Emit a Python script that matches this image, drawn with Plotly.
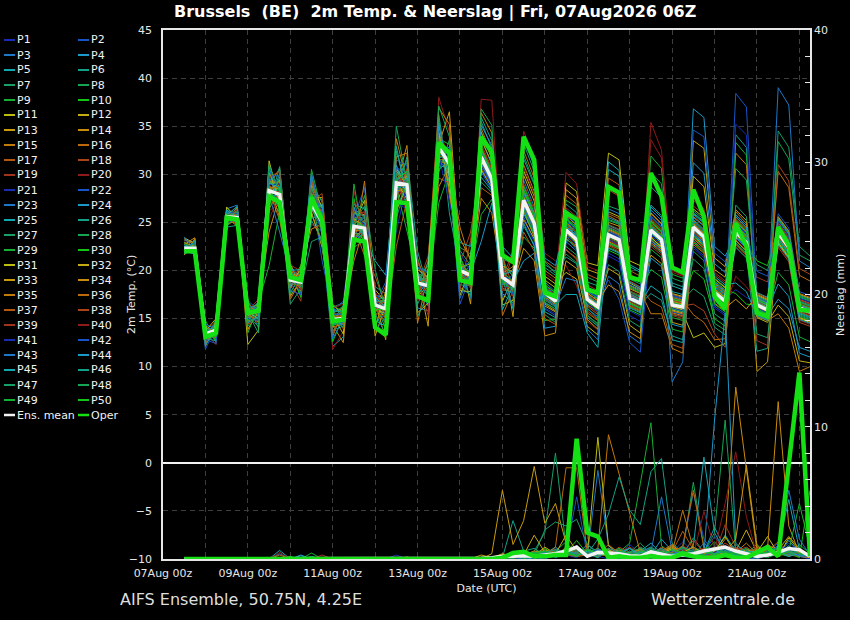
import pandas as pd
import plotly.graph_objects as go

# 6-hourly steps, 07Aug 12z .. 22Aug 06z
times = pd.date_range("2026-08-07 12:00", periods=60, freq="6h")
members = [f"P{k}" for k in range(1, 51)]

# 2m temperature, one row per time step, one value per member (P1..P50)
temp_steps = [
    [22.4,22.0,23.1,21.8,22.6,22.3,21.6,22.9,22.2,22.5,23.4,22.1,21.9,22.7,22.3,22.0,22.8,21.7,22.4,23.0,22.2,22.6,21.9,22.5,23.3,22.1,22.4,21.8,22.7,22.3,22.0,22.9,22.5,21.6,22.2,23.2,22.4,22.1,22.8,21.9,22.6,22.3,23.5,22.0,22.5,21.7,22.7,22.2,22.9,22.4],
    [22.2,22.6,22.9,22.0,22.4,21.7,23.2,22.3,22.5,21.9,22.8,22.1,22.6,23.4,22.0,22.3,21.8,22.7,22.5,22.1,22.9,21.6,22.4,22.2,22.6,23.0,22.3,22.0,21.9,22.8,22.4,22.5,22.1,23.3,22.2,22.7,21.8,22.4,22.0,22.6,22.3,22.9,22.1,21.7,22.5,23.1,22.2,22.6,22.0,22.4],
    [13.2,13.8,12.4,13.5,14.1,12.9,13.6,13.0,14.6,13.3,12.7,13.9,13.4,12.1,13.7,14.3,13.1,12.8,13.5,14.0,13.2,11.8,13.6,14.4,12.9,13.3,13.8,12.5,13.4,14.8,13.0,13.7,12.6,13.5,14.2,13.1,12.3,13.9,13.4,13.0,14.5,12.8,13.6,13.2,12.2,14.0,13.5,12.9,13.7,13.3],
    [13.9,13.2,14.4,12.8,13.7,14.9,13.5,14.1,12.5,13.8,14.3,13.0,13.6,14.7,13.4,12.9,14.0,13.8,12.3,14.5,13.6,14.2,13.1,13.9,12.7,14.6,13.8,13.3,14.1,12.6,13.7,15.0,13.5,14.3,13.0,13.8,14.8,12.9,13.6,14.0,13.4,12.4,14.4,13.7,14.1,13.2,13.9,14.5,13.5,13.1],
    [25.4,25.9,24.8,26.2,25.6,25.1,26.5,25.7,24.6,25.3,26.0,25.5,25.8,24.9,26.3,25.2,25.6,26.1,24.7,25.4,25.9,25.0,26.4,25.6,25.3,24.5,25.8,26.0,25.1,25.7,26.6,25.4,25.2,25.9,24.8,25.6,26.2,25.0,25.5,25.7,24.9,26.1,25.3,25.8,26.3,25.4,24.6,25.6,25.9,25.2],
    [25.7,25.1,26.4,25.4,24.8,25.9,25.3,26.7,25.6,25.0,25.8,24.6,26.1,25.5,25.2,26.3,25.7,24.9,25.4,26.0,25.6,25.1,26.8,25.3,25.9,24.7,25.5,26.2,25.0,25.8,25.4,26.5,24.9,25.6,25.2,26.0,25.7,25.3,24.8,26.3,25.5,25.9,25.1,26.6,25.4,25.0,25.8,26.1,25.3,25.6],
    [15.8,15.2,16.4,14.9,15.6,16.8,15.3,14.2,15.9,16.2,12.3,15.5,16.0,15.1,14.7,16.5,15.7,15.0,16.1,13.6,15.4,16.9,15.8,14.5,15.2,16.3,15.6,15.9,14.8,16.6,15.3,15.7,13.9,16.0,15.5,15.1,16.7,14.4,15.8,16.2,15.4,15.0,16.4,15.7,14.6,15.9,16.1,15.2,13.5,15.6],
    [16.0,15.4,14.0,16.5,15.7,15.1,16.8,15.9,16.3,14.7,13.8,15.6,16.1,15.3,16.6,15.8,14.4,16.2,15.5,16.9,15.2,15.8,14.9,16.4,16.0,15.4,13.5,15.9,16.7,15.6,16.2,15.0,15.7,16.5,14.6,16.1,15.3,15.8,17.0,15.5,16.3,14.8,15.9,16.0,15.2,16.6,15.7,14.2,16.4,15.6],
    [28.6,27.4,29.8,28.1,26.9,30.5,28.4,27.8,29.2,28.0,31.4,27.5,28.8,29.5,26.4,28.3,30.1,27.2,28.9,25.3,28.5,29.9,27.7,28.2,30.8,26.8,28.6,29.3,20.5,28.1,27.6,30.2,28.7,24.0,29.0,28.4,27.3,29.7,28.2,26.2,28.9,30.4,27.9,28.5,29.1,27.1,28.0,31.0,28.6,27.6],
    [27.6,28.9,26.7,28.2,30.1,27.4,28.5,26.0,28.8,29.5,27.1,28.0,30.6,27.7,28.3,25.2,28.6,29.2,27.3,28.0,26.5,29.8,27.9,28.4,26.9,30.8,27.5,28.7,26.1,28.1,29.4,27.2,28.5,27.8,25.5,28.9,27.6,30.3,28.2,27.0,29.0,28.4,24.0,27.8,28.6,29.7,27.4,28.1,26.3,28.7],
    [19.2,18.6,20.1,18.9,17.5,19.4,20.5,18.3,19.0,19.7,18.1,20.8,19.3,18.7,17.0,19.5,20.2,18.8,19.1,19.9,18.4,17.8,19.6,20.4,18.9,19.2,16.5,19.8,18.5,20.0,19.3,18.2,19.6,17.3,20.3,19.0,18.6,19.4,20.6,18.9,19.1,17.9,19.7,18.4,20.0,19.2,18.8,19.5,17.6,19.3],
    [18.5,19.3,18.0,19.9,18.7,17.4,19.1,20.2,18.4,18.9,19.6,17.8,18.6,20.5,19.0,18.2,19.4,16.8,18.9,19.8,18.3,19.2,17.6,18.8,20.0,19.5,18.1,18.7,19.3,17.2,18.9,20.3,18.5,19.0,17.9,19.6,18.4,18.8,19.9,18.0,19.2,17.5,18.7,19.4,20.1,18.6,19.0,18.3,19.7,18.8],
    [27.3,26.5,28.4,27.0,25.2,29.1,27.6,26.8,30.5,27.2,26.1,28.0,27.5,24.3,28.7,26.9,27.4,29.6,26.3,27.8,25.7,28.2,27.1,29.9,26.6,27.3,23.0,28.5,27.7,26.4,28.9,27.0,25.9,28.1,27.5,26.7,29.3,27.2,24.8,28.4,26.9,27.6,30.1,26.2,27.9,25.4,28.6,27.1,26.5,28.0],
    [25.3,24.6,26.5,25.0,23.2,27.1,25.5,24.2,26.0,25.8,22.4,25.1,27.6,24.8,25.4,26.3,23.9,25.7,24.5,26.8,25.2,21.0,25.9,24.7,26.1,25.3,23.5,27.3,25.0,24.4,26.6,25.6,22.9,25.4,26.2,24.9,25.7,28.0,24.1,25.5,26.4,23.7,25.2,26.9,24.6,25.8,25.1,22.6,26.0,25.3],
    [15.1,14.5,15.8,14.2,12.1,15.4,16.2,14.8,15.0,13.6,15.6,14.9,16.5,14.3,15.2,13.1,15.7,14.6,15.3,11.8,14.9,15.9,14.4,15.1,16.0,13.8,15.5,14.7,15.0,12.6,15.3,16.3,14.5,15.6,14.1,15.2,13.3,15.8,14.9,16.1,14.6,15.4,12.9,15.0,15.7,14.3,15.5,14.8,16.4,14.2],
    [15.2,14.7,16.0,15.4,13.1,15.0,16.6,14.4,15.7,15.1,14.0,15.9,15.3,12.5,15.5,16.2,14.8,15.0,15.8,13.7,15.3,16.8,14.6,15.1,15.6,14.2,15.4,16.4,14.9,15.2,13.4,15.7,15.0,16.1,14.5,15.3,15.9,13.9,15.1,16.5,14.7,15.5,15.0,14.3,15.8,15.2,16.3,14.1,15.6,14.9],
    [24.9,23.7,25.8,24.3,26.9,24.6,22.4,25.3,24.0,27.5,24.8,23.2,25.6,24.5,21.0,26.2,24.7,25.1,23.9,28.3,24.4,25.5,22.9,24.8,26.6,24.2,25.0,23.5,29.0,24.6,25.4,23.8,26.0,24.1,22.1,25.2,24.7,27.1,23.6,24.9,25.7,24.3,26.4,23.3,24.8,25.9,22.7,24.5,25.1,24.0],
    [24.1,25.2,23.5,24.8,26.4,24.0,23.1,25.6,24.5,22.4,27.3,24.2,25.0,23.8,24.6,26.0,21.5,24.9,25.3,23.6,24.4,28.6,24.1,25.5,23.3,24.7,26.7,24.3,22.8,25.1,24.5,23.9,25.8,24.2,29.3,24.6,23.4,25.4,24.0,26.2,24.8,22.6,25.0,24.4,23.7,25.7,24.1,27.8,24.6,23.2],
    [16.7,15.9,17.5,16.2,14.8,16.5,18.3,16.0,15.3,17.0,16.4,13.2,16.8,17.7,15.6,16.3,19.4,16.1,15.0,16.9,17.3,16.2,14.3,16.6,21.0,15.8,16.4,17.1,15.4,16.7,18.0,16.0,14.0,16.5,17.4,15.7,16.3,16.9,15.1,17.8,16.2,16.6,13.8,16.4,17.2,15.5,16.8,20.1,16.1,15.9],
    [16.2,15.6,17.0,15.9,14.2,16.4,17.6,15.3,16.1,16.8,15.0,16.5,12.8,16.0,17.3,15.7,16.3,18.4,15.4,16.6,16.9,14.7,16.2,15.8,19.5,16.0,15.2,17.1,16.4,13.9,16.7,15.5,17.9,16.1,15.8,16.5,14.5,16.3,17.4,15.6,16.0,18.8,15.1,16.4,16.2,13.4,16.8,15.9,17.2,16.0],
    [29.5,28.2,31.0,27.6,30.3,29.0,25.4,29.8,32.4,28.7,29.3,26.8,30.6,28.9,33.7,29.2,27.3,30.0,28.4,29.6,24.1,31.5,29.1,28.0,30.9,27.9,29.4,35.0,28.6,29.9,26.2,30.4,29.0,28.3,31.8,29.7,22.5,28.8,30.2,29.3,27.0,30.7,29.6,28.5,32.9,29.1,26.5,30.1,28.9,29.4],
    [28.6,29.5,27.8,30.4,28.9,26.9,29.3,31.2,28.2,29.7,27.4,30.0,28.8,33.0,29.1,27.1,30.6,28.5,29.4,25.8,29.0,30.9,28.3,29.6,27.6,31.8,28.7,29.2,24.0,30.2,28.9,27.9,29.8,28.4,32.2,29.1,27.3,30.5,28.6,29.3,26.4,30.1,28.8,29.6,27.7,31.5,28.9,29.2,28.1,30.3],
    [18.9,18.2,19.7,17.8,20.4,18.6,16.5,19.2,18.4,21.3,18.8,17.3,19.5,18.1,14.5,19.9,18.7,18.3,20.8,17.6,19.0,18.5,16.1,19.4,18.9,22.0,18.2,17.9,19.6,18.6,15.6,20.1,18.8,19.3,17.1,18.4,21.0,18.7,19.1,16.8,18.5,20.3,18.9,17.5,19.2,18.6,15.2,19.8,18.3,18.7],
    [18.1,18.9,17.4,19.6,18.5,16.3,18.8,20.5,18.2,17.7,19.2,18.4,14.2,18.7,19.9,17.9,18.6,21.5,18.3,17.1,19.0,18.5,15.8,18.9,19.5,18.0,17.5,20.2,18.4,18.7,16.6,19.3,18.1,18.8,21.0,17.8,18.5,19.1,15.3,18.6,18.2,19.8,17.3,18.9,18.4,20.8,17.6,18.3,19.4,18.5],
    [33.2,32.1,34.5,31.6,33.0,36.2,32.4,30.2,33.6,32.8,34.9,31.3,33.1,28.7,32.5,35.3,33.3,32.0,34.1,38.0,32.7,31.8,33.4,30.9,32.6,35.8,33.0,32.3,27.0,33.7,32.9,34.3,31.5,33.2,36.9,32.4,29.6,33.5,32.8,34.7,31.9,33.1,32.6,35.0,30.5,33.3,32.2,37.1,32.9,33.4],
    [30.8,31.6,29.9,32.4,31.0,28.8,31.4,33.6,30.6,31.9,29.3,31.2,36.5,30.9,31.5,27.8,32.0,31.1,30.4,34.4,31.3,29.6,31.8,30.7,32.6,26.0,31.0,31.7,30.3,33.1,31.2,28.4,31.5,30.8,35.2,31.1,29.1,32.3,30.9,31.6,27.2,31.3,32.8,30.5,31.4,29.8,31.0,33.9,30.6,31.2],
    [20.3,19.6,21.2,19.3,20.8,18.2,20.1,22.4,19.8,20.5,17.4,20.0,21.6,19.5,24.5,20.2,18.8,20.7,19.4,21.1,20.0,16.5,20.4,19.7,22.9,20.1,18.5,20.6,19.9,21.4,17.9,20.3,19.6,23.3,20.0,19.2,20.9,18.0,20.4,19.8,21.8,20.2,17.1,19.9,20.6,19.4,22.1,20.0,19.5,20.8],
    [19.3,20.1,18.6,20.6,19.5,17.5,19.9,21.7,19.2,18.8,20.3,19.6,16.5,19.4,20.9,18.9,19.7,24.0,19.0,18.3,20.2,19.5,17.1,19.8,22.5,19.3,18.4,20.4,19.6,19.1,17.8,20.7,19.4,21.2,18.7,19.9,19.3,23.1,18.1,19.6,20.0,18.5,19.8,21.0,19.2,17.3,20.5,19.5,18.9,19.7],
    [32.3,31.0,33.8,30.4,32.0,35.5,31.5,29.2,32.8,31.9,34.4,30.7,32.2,27.5,31.6,34.8,32.5,30.9,33.2,37.8,31.8,30.2,32.6,23.0,31.4,35.9,32.0,31.2,25.8,32.7,31.7,33.6,30.5,32.1,36.4,31.3,28.6,32.9,31.8,34.1,30.8,32.4,31.1,35.1,29.7,32.3,31.5,36.8,31.9,32.6],
    [29.8,29.0,30.9,28.6,29.4,32.7,29.9,28.1,30.3,29.5,31.6,28.9,29.7,26.0,29.2,32.0,30.1,29.3,30.6,37.7,29.6,28.4,30.0,27.0,29.1,33.5,29.5,29.9,27.4,30.4,29.3,31.2,28.7,29.8,34.3,29.4,27.8,30.5,29.6,31.9,28.8,30.2,29.0,33.0,28.3,29.9,29.2,35.1,29.7,30.1],
    [19.5,18.9,20.4,18.5,19.9,17.6,19.3,21.2,19.0,20.1,16.8,19.6,21.8,18.7,19.4,15.3,20.0,19.2,18.4,20.7,19.3,17.2,19.8,18.8,22.5,19.1,18.2,20.3,19.5,18.9,16.4,20.5,19.2,19.7,18.0,19.4,21.5,18.6,19.9,17.9,19.3,20.2,18.5,19.6,15.9,19.0,20.8,19.4,18.7,19.8],
    [18.3,19.0,17.7,19.6,18.5,16.6,18.9,20.7,18.2,18.0,19.3,18.6,15.2,18.4,20.1,17.9,18.7,22.0,18.1,17.4,19.2,18.5,16.2,18.8,21.3,18.3,17.6,19.5,18.6,18.1,16.9,19.8,18.4,20.4,17.8,18.9,18.2,21.6,17.3,18.7,19.1,17.5,18.8,19.9,18.4,16.0,19.4,18.5,18.0,18.9],
    [27.8,26.5,29.4,25.9,27.3,31.6,27.0,24.6,28.3,27.5,30.4,26.2,27.9,22.3,27.1,32.5,28.0,26.8,29.0,34.5,27.4,25.6,28.5,21.0,26.9,33.2,27.6,26.4,23.5,28.8,27.2,29.9,25.3,27.7,31.0,26.7,24.0,28.2,27.3,30.7,25.0,27.9,26.6,33.8,24.9,28.1,27.0,32.0,26.3,28.4],
    [25.2,24.3,26.6,23.8,25.0,28.9,24.6,22.7,25.8,24.9,27.7,23.5,25.4,21.0,24.7,29.6,25.5,24.1,26.3,31.5,24.8,23.1,25.9,21.8,24.4,30.3,25.1,24.0,22.3,26.0,24.9,27.2,23.3,25.3,28.2,24.5,22.0,25.7,24.8,27.9,23.0,25.6,24.2,30.8,22.5,25.9,24.6,29.1,23.7,25.5],
    [17.9,17.2,18.8,16.7,17.6,20.3,17.4,15.4,18.2,17.7,19.4,16.3,18.0,13.2,17.5,21.0,18.1,17.0,18.6,21.8,17.8,16.0,18.4,14.0,17.3,20.6,17.9,16.9,14.8,18.5,17.6,19.0,16.5,17.9,20.0,17.2,15.0,18.3,17.7,19.7,16.1,18.0,17.1,21.3,15.7,18.2,17.4,20.9,16.6,18.1],
    [17.0,16.5,17.8,16.0,16.9,19.5,16.7,14.6,17.3,16.8,18.6,15.7,17.1,13.5,16.6,20.2,17.2,16.3,17.6,21.0,16.9,15.3,17.5,14.2,16.4,19.9,17.0,16.2,14.9,17.7,16.8,18.2,15.8,17.0,19.2,16.5,14.4,17.4,16.8,18.9,15.5,17.1,16.3,20.5,15.1,17.3,16.6,19.7,16.0,17.2],
    [24.6,23.5,26.1,22.8,24.9,21.4,24.0,27.3,23.2,25.5,19.8,24.3,28.4,23.9,25.0,22.1,24.7,23.6,26.5,20.5,24.1,25.8,23.0,24.5,17.5,26.9,24.2,22.5,25.3,23.8,29.1,24.4,21.0,25.7,24.0,23.3,27.8,22.2,24.8,30.2,23.7,25.1,19.2,24.6,26.3,23.4,24.9,21.7,25.4,24.1],
    [23.0,24.1,22.3,25.2,23.5,20.7,23.8,26.6,22.6,24.4,19.1,23.2,27.5,22.9,24.0,21.3,23.6,22.5,25.6,18.4,23.1,24.8,22.0,23.7,17.5,26.0,23.3,21.6,24.3,22.8,28.2,23.4,20.2,24.7,23.0,22.4,26.9,21.1,23.9,29.0,22.7,24.2,18.9,23.5,25.3,22.2,23.8,20.8,24.5,23.1],
    [17.3,16.6,18.1,16.2,17.5,15.1,16.9,19.3,16.4,17.8,14.2,17.1,20.1,16.8,17.6,15.6,17.2,16.5,18.5,14.7,17.0,18.0,16.0,17.4,13.5,18.8,17.1,15.3,17.9,16.7,20.8,17.3,14.9,17.7,16.9,16.3,19.6,15.8,17.5,20.4,16.6,17.8,13.9,17.2,18.3,16.1,17.4,15.4,17.9,17.0],
    [16.0,16.8,15.5,17.6,16.3,14.2,16.6,18.8,15.8,17.1,13.3,16.2,19.7,16.0,16.9,14.8,16.4,15.6,17.9,13.8,16.1,17.3,15.2,16.5,12.0,18.4,16.3,14.5,17.0,15.9,20.5,16.4,13.9,16.8,16.1,15.4,19.1,14.9,16.7,20.0,15.7,17.2,12.8,16.3,17.7,15.0,16.6,14.3,17.4,16.2],
    [24.0,23.2,19.4,24.5,31.3,23.6,22.8,25.2,23.9,22.4,26.1,20.2,24.3,23.0,25.7,23.5,29.6,22.6,24.8,23.3,21.8,19.0,24.1,25.5,23.7,22.9,26.7,23.4,24.4,22.1,32.2,23.8,25.0,18.5,24.2,22.7,25.9,28.4,23.1,24.6,21.5,23.9,26.4,22.3,30.5,24.7,20.6,23.6,25.3,22.9],
    [23.5,22.7,18.6,24.0,30.4,23.1,22.3,24.8,23.4,21.9,25.6,19.5,23.8,22.5,25.1,23.0,28.9,22.0,24.3,22.8,21.2,17.0,23.6,25.0,23.2,22.4,26.3,22.9,23.9,21.6,31.5,23.3,24.6,17.8,23.7,22.2,25.4,27.7,22.6,24.1,20.9,23.4,25.9,21.8,29.8,24.2,19.9,23.1,24.9,22.4],
    [17.4,16.8,13.2,17.7,20.6,17.0,16.5,18.2,17.3,16.2,18.7,14.3,17.6,16.7,18.4,17.0,20.0,16.4,17.9,16.9,15.8,12.5,17.5,18.5,17.1,16.6,19.1,16.9,17.8,15.9,21.0,17.2,18.1,13.6,17.4,16.3,18.9,19.6,16.8,17.7,15.3,17.3,18.8,16.1,20.4,17.6,14.8,17.0,18.3,16.6],
    [16.8,16.3,12.4,17.2,20.0,16.5,16.0,17.7,16.9,15.7,18.1,13.5,17.0,16.2,17.9,16.5,19.4,15.9,17.4,16.4,15.2,11.5,16.9,18.0,16.6,16.1,18.6,16.4,17.3,15.4,20.5,16.7,17.6,12.9,16.8,15.8,18.3,19.0,16.2,17.1,14.7,16.8,18.2,15.6,19.8,17.0,14.1,16.5,17.8,16.1],
    [24.5,23.8,25.6,23.1,26.8,17.6,24.2,22.7,31.9,24.0,23.4,25.2,22.9,24.7,15.5,23.6,25.9,24.3,22.5,35.4,24.1,23.0,26.3,24.6,18.4,23.9,25.0,30.2,22.2,24.8,23.5,26.0,21.6,24.4,23.2,25.4,16.8,24.9,22.8,33.6,23.7,25.7,24.1,21.3,26.6,28.7,23.3,24.5,20.1,25.1],
    [23.4,22.9,24.5,22.2,25.7,16.9,23.1,21.8,30.6,23.0,22.5,24.1,22.0,23.6,15.5,22.7,24.8,23.3,21.6,32.5,23.0,22.1,25.2,23.5,17.6,22.8,24.0,29.0,21.3,23.7,22.4,24.9,20.7,23.3,22.2,24.3,16.2,23.8,21.9,31.7,22.6,24.6,23.1,20.4,25.5,27.6,22.3,23.4,19.3,24.0],
    [16.7,16.1,17.3,15.8,18.4,13.2,16.5,15.4,19.6,16.3,15.9,17.0,15.6,16.8,11.9,16.2,17.5,16.6,15.3,20.0,16.4,15.7,8.4,16.9,12.8,16.0,17.1,19.2,15.1,16.7,16.2,17.6,14.6,16.8,15.8,17.2,12.3,16.9,15.5,19.8,16.1,17.4,16.5,14.4,17.8,18.7,16.0,16.6,13.9,17.0],
    [16.4,15.9,17.0,15.5,18.0,12.8,16.2,15.2,19.2,16.0,15.6,16.7,15.3,16.5,11.4,15.9,17.2,16.3,15.0,19.5,16.1,15.4,10.5,16.6,12.5,15.8,16.9,18.8,14.8,16.4,15.9,17.3,14.3,16.5,15.5,16.9,11.9,16.6,15.2,19.4,15.8,17.1,16.2,14.1,17.5,18.3,15.7,16.3,13.6,16.8],
    [24.8,23.9,25.5,36.8,24.3,23.1,26.2,22.0,24.6,25.9,13.0,23.6,33.5,24.9,22.7,25.2,24.0,16.5,26.7,23.4,24.7,22.5,25.8,31.2,24.2,23.7,18.1,25.0,24.5,22.9,26.4,29.8,23.3,24.8,25.6,15.4,24.1,23.0,27.3,24.4,22.3,34.6,25.1,23.8,26.0,24.6,21.2,25.3,23.5,20.0],
    [23.8,22.9,24.6,35.9,23.3,22.1,25.3,21.0,23.6,25.0,13.5,22.6,32.7,23.9,21.8,24.2,23.0,15.8,25.8,22.4,23.7,21.5,24.9,30.1,23.2,22.7,17.3,24.0,23.5,21.9,25.5,28.7,22.3,23.8,24.7,14.6,23.1,22.0,26.4,23.4,21.3,33.9,24.1,22.8,25.1,23.6,20.2,24.3,22.5,19.1],
    [18.0,17.3,18.6,22.5,17.5,16.8,19.2,14.5,17.9,18.9,12.0,17.1,21.3,18.1,16.6,18.4,17.4,13.4,19.6,17.0,17.8,16.3,18.8,20.7,17.6,17.2,14.1,18.2,17.9,16.5,19.1,20.1,17.0,18.0,18.7,12.8,17.5,16.9,19.8,17.7,16.1,21.8,18.3,17.2,19.4,17.8,15.5,18.5,17.4,15.0],
    [17.0,16.5,17.7,21.5,16.6,16.0,18.3,13.8,17.1,18.0,12.4,16.3,20.4,17.2,15.8,17.5,16.5,12.0,18.7,16.2,16.9,15.5,17.9,19.8,16.7,16.4,13.3,17.3,17.0,15.7,18.2,19.3,16.1,17.2,17.8,12.9,16.6,16.1,18.9,16.8,15.3,20.9,17.4,16.3,18.5,16.9,14.7,17.6,16.5,14.2],
    [18.0,24.2,25.0,23.5,24.8,34.1,23.9,25.6,22.8,17.6,24.4,23.1,26.3,24.6,32.2,23.7,24.1,25.3,22.5,19.4,24.9,38.4,23.4,25.8,24.0,22.9,26.8,24.3,33.3,23.6,25.1,24.7,17.0,23.8,26.1,24.5,22.7,25.4,23.2,24.0,35.2,24.9,23.5,25.6,18.7,22.4,24.6,30.6,23.9,25.2],
    [17.2,23.1,23.9,22.4,23.7,32.8,22.8,24.4,21.7,16.5,23.3,22.0,25.2,23.5,31.0,22.6,23.0,24.1,21.4,18.3,23.8,37.0,22.3,24.7,22.9,21.8,25.6,23.2,32.0,22.5,24.0,23.6,16.0,22.7,24.9,23.4,21.6,24.3,22.1,22.9,34.1,23.8,22.4,24.5,17.8,21.3,23.5,29.4,22.8,24.1],
    [16.7,16.1,17.2,15.8,16.9,16.3,20.6,15.5,17.0,16.4,15.9,17.5,9.5,16.6,15.2,17.1,16.2,15.7,19.3,16.8,16.0,17.3,15.4,16.5,17.7,11.6,16.3,15.9,17.0,21.0,16.4,15.1,17.4,16.7,15.8,16.9,17.6,16.2,12.7,16.5,15.6,19.9,16.8,17.1,15.3,16.6,13.4,17.3,16.0,16.9],
    [16.1,15.6,16.7,15.3,16.4,15.8,20.0,15.0,16.5,15.9,15.4,17.0,10.5,16.1,14.8,16.6,15.7,15.2,18.8,16.3,15.5,16.8,14.9,16.0,17.2,11.9,15.8,15.4,16.5,20.5,15.9,14.6,16.9,16.2,15.3,16.4,17.1,15.7,12.2,16.0,15.1,19.4,16.3,16.6,14.8,16.1,13.0,16.8,15.5,16.4],
    [24.2,23.6,24.9,17.0,23.4,25.3,24.0,33.4,23.1,24.6,22.8,25.6,23.9,24.3,15.5,23.5,25.0,31.0,24.4,22.6,23.8,25.9,24.1,18.6,23.3,24.7,34.5,23.0,25.2,24.5,22.9,16.4,24.0,23.7,25.5,30.3,24.2,22.4,24.8,23.6,25.1,23.9,39.0,24.3,22.7,25.4,23.2,24.6,19.8,24.0],
    [22.7,22.1,23.3,16.0,21.9,23.8,22.5,31.6,21.6,23.0,21.3,24.1,22.4,22.8,14.0,22.0,23.5,29.3,22.9,21.1,22.3,24.4,22.6,17.3,21.8,23.2,32.8,21.5,23.7,23.0,21.4,15.2,22.5,22.2,24.0,28.6,22.7,20.9,23.3,22.1,23.6,22.4,37.2,22.8,21.2,23.9,21.7,23.1,18.5,22.5],
    [16.4,15.8,16.9,12.0,15.6,17.2,16.2,21.6,15.3,16.7,15.0,17.5,16.1,16.5,9.5,15.7,17.0,20.2,16.6,14.8,16.0,17.8,16.3,11.4,15.5,16.8,22.5,15.2,17.3,16.5,15.1,10.6,16.2,15.9,17.6,19.5,16.4,14.6,16.9,15.8,17.1,16.1,21.0,16.4,14.9,17.4,15.4,16.7,13.1,16.0],
    [16.0,15.4,16.5,11.6,15.2,16.8,15.8,21.0,14.9,16.3,14.6,17.1,15.7,16.1,10.0,15.3,16.6,19.6,16.2,14.4,15.6,17.4,15.9,11.0,15.1,16.4,21.5,14.8,16.9,16.1,14.7,10.4,15.8,15.5,17.2,18.9,16.0,14.2,16.5,15.4,16.7,15.7,20.3,16.0,14.5,17.0,15.0,16.3,12.6,15.6],
]

temp_mean = [22.3,22.3,13.4,13.8,25.6,25.5,15.6,15.8,28.3,27.9,
             19.0,18.8,27.0,25.0,14.9,15.0,24.6,24.4,16.4,16.0,
             29.1,28.9,18.7,18.4,32.8,31.1,20.0,19.5,31.8,29.5,
             19.3,18.5,27.3,24.9,17.7,16.8,24.2,23.2,17.0,16.2,
             23.7,23.2,17.1,16.6,24.2,23.2,16.4,16.2,24.5,23.5,
             17.7,16.8,24.0,22.9,16.4,15.9,23.9,22.4,16.1,15.7]

temp_oper = [22.0,22.0,13.1,13.5,25.5,25.3,15.6,15.8,27.7,27.1,
             19.3,19.0,27.6,25.2,14.7,14.9,23.2,23.0,14.1,13.3,
             27.1,27.0,17.3,16.9,33.3,32.2,19.0,18.7,33.9,32.3,
             21.6,20.9,33.9,31.5,17.7,17.3,26.0,25.3,18.0,17.7,
             28.7,28.1,19.3,19.0,30.1,27.7,20.3,19.8,28.4,25.6,
             17.3,16.0,24.9,22.5,15.6,15.2,24.5,22.6,15.9,15.8]

# 6-hourly precipitation (mm), one row per member, one value per time step
rain_members = [
    [0,0,0,0,0,0,0,0,0,0, 0,0,0,0,0,0,0,0,0,0, 0.3,0,0,0,0,0,0,0, 0,0,0,0.1,0,0.2,0.4,0.8, 0.3,0.1,0.6,0.2,0,0.3,1.1,0.4, 0,0.2,0.5,1.3,0.6,0.2,0,0.4, 0.9,0.3,0.1,0.5,1.2,0.4,0.2,0],
    [0,0,0,0,0,0,0,0,0,0, 0,0,0,0,0,0,0,0,0,0, 0,0,0,0,0,0,0.1,0, 0,0,0,0,0.2,0.1,0,0.3, 0.5,4.7,0.3,0.2,0.4,0.1,0,0.6, 0.3,0.2,0.8,0.4,0.1,0.5,1.7,0.6, 0.2,0,0.3,0.7,0.4,1.0,0.3,0.1],
    [0,0,0,0,0,0,0,0,0,0.4, 0,0,0,0,0,0,0,0,0,0, 0,0,0,0,0,0,0,0, 0,0,0,0.1,0,0.3,0.2,0.5, 0.4,0.6,0.2,6.7,1.0,0.3,0.1,0.5, 0.8,0.2,0,0.4,0.3,1.2,0.5,0.2, 0.6,0.1,0,0.3,0.9,0.4,0.2,0.1],
    [0,0,0,0,0,0,0,0,0,0, 0,0.3,0,0,0,0,0,0,0,0, 0,0,0,0,0,0,0,0, 0,0,0.1,0,0.3,0.2,0.6,0.1, 0.4,0.3,1.1,0.5,0.2,0,0.4,0.7, 0.3,1.5,0.6,0.2,0.1,0.5,2.4,0.8, 0.3,0.4,0.2,0.6,0.3,1.4,0.5,0.2],
    [0,0,0,0,0,0,0,0,0,0.65, 0,0,0,0,0,0,0,0,0,0, 0,0,0,0,0,0,0,0, 0,0,0,0.2,0.1,0,0.4,0.9, 0.3,0.2,0.5,0.1,0.7,0.3,0,0.6, 1.2,0.4,0.2,0.8,0.3,0.1,0.5,1.8, 0.6,0.2,0.4,0.3,1.0,0.5,0.7,0.2],
    [0,0,0,0,0,0,0,0,0,0, 0,0,0.2,0,0,0,0,0,0,0, 0,0,0,0,0,0,0,0, 0,0,0.1,2.9,0.6,0.8,0.3,0.5, 0.2,1.0,0.4,0.1,0.6,0.3,0.2,0.9, 0.5,0.1,0.3,0.7,0.4,0.2,0.6,0.3, 1.1,0.4,0.2,0.5,0.3,0.8,0.2,0.1],
    [0,0,0,0,0,0,0,0,0,0, 0.15,0,0,0,0,0,0,0,0,0, 0,0,0,0,0,0,0,0, 0,0,0,0,0.3,0.6,2.0,8.0, 0.9,0.4,0.6,0.2,0.8,0.3,0.5,1.2, 0.4,0.2,0.7,0.3,1.6,0.5,0.2,0.4, 0.9,0.3,0.1,0.6,0.4,1.0,0.3,0.2],
    [0,0,0,0,0,0,0,0,0,0, 0,0,0,0,0,0,0,0,0,0, 0,0,0,0,0,0,0,0, 0,0,0.1,0,0.2,0.4,0.1,0.6, 1.3,0.3,0.5,0.2,0.4,0.8,0.3,0.2, 0.6,0.3,0.9,0.6,5.8,0.9,0.4,0.2, 0.7,0.5,0.3,0.1,0.4,0.8,0.6,0.3],
    [0,0,0,0,0,0,0,0,0,0, 0,0,0.45,0,0,0,0,0,0,0, 0,0,0,0,0,0,0,0, 0,0,0,0.2,0.5,0.1,0.3,0.7, 0.4,0.2,0.6,0.3,0.5,0.5,1.2,5.7, 10.3,1.0,0.4,0.2,0.6,0.3,0.8,0.5, 0.2,0.4,1.1,0.3,0.6,0.2,0.5,0.3],
    [0,0,0,0,0,0,0,0,0,0, 0.2,0,0,0,0,0,0,0,0,0, 0,0,0,0,0,0,0,0, 0,0,0.2,0.1,0,0.4,0.8,0.3, 0.5,1.4,0.4,0.2,0.6,0.3,0.1,0.5, 0.9,0.4,0.2,0.7,0.3,0.5,1.3,0.4, 0.2,0.6,0.3,0.8,0.4,0.2,0.5,0.1],
    [0,0,0,0,0,0,0,0,0,0, 0,0,0,0,0,0,0,0,0,0, 0,0,0,0,0,0,0,0, 0,0,0,0.3,0.2,0.1,0.5,0.4, 0.6,0.3,0.3,9.2,1.0,0.5,0.2,0.7, 0.4,0.1,0.3,0.9,0.5,0.2,0.6,1.7, 0.4,0.3,0.8,0.5,0.2,1.6,0.6,0.3],
    [0,0,0,0,0,0,0,0,0,0, 0,0,0,0,0,0,0,0,0,0, 0,0.15,0,0,0,0,0,0, 0.1,0,0.3,0.1,0.5,0.2,0.9,0.4, 1.8,0.6,0.3,0.5,0.2,0.7,0.4,0.1, 0.6,0.3,1.0,0.5,0.2,0.8,0.4,0.3, 0.6,2.2,0.5,0.3,0.7,1.7,0.8,0.2],
    [0,0,0,0,0,0,0,0,0,0, 0,0,0,0,0,0,0,0,0,0, 0,0,0,0,0,0,0,0, 0,0.4,5.2,1.1,2.9,7.0,2.7,4.2, 1.2,0.3,0.5,0.2,0.8,0.4,0.3,0.6, 0.2,0.5,1.0,0.4,0.2,0.6,0.3,0.9, 0.5,0.2,0.4,1.1,0.6,0.3,0.2,0.4],
    [0,0,0,0,0,0,0,0,0,0, 0,0,0,0,0,0,0,0,0,0, 0,0,0,0,0,0,0,0, 0,0,0.2,0.1,0.4,0.3,0.6,0.2, 0.9,0.5,0.3,0.7,0.4,0.2,0.8,0.5, 0.3,0.6,1.1,0.4,0.2,0.6,0.5,1.5, 13.0,6.7,0.6,0.3,0.5,0.8,0.4,0.2],
    [0,0,0,0,0,0,0,0,0,0, 0,0,0,0,0,0,0,0,0,0, 0,0,0,0,0,0,0,0, 0,0,0,0.2,0.5,0.3,0.1,0.6, 0.4,0.2,0.3,0.8,9.4,6.5,3.5,0.5, 0.3,0.6,0.2,0.9,0.4,0.3,0.7,0.2, 0.5,1.2,0.4,0.3,0.8,0.5,0.2,0.4],
    [0,0,0,0,0,0,0,0,0,0.3, 0,0,0,0,0,0,0,0,0,0, 0,0,0,0,0,0,0,0, 0,0,0.1,0.3,0.2,0.5,0.3,0.9, 6.9,6.9,0.5,0.3,0.6,0.2,0.4,0.8, 0.3,0.5,1.0,0.4,0.2,0.6,0.3,0.7, 0.5,0.2,0.9,0.4,0.3,0.6,0.2,0.1],
    [0,0,0,0,0,0,0,0,0,0, 0,0,0,0,0,0,0,0,0,0, 0,0,0,0,0,0,0,0, 0,0,0,0,0.3,0.2,0.6,0.4, 0.2,0.8,0.5,0.3,1.1,0.4,0.2,0.6, 0.3,0.9,0.5,2.1,0.7,0.3,0.2,0.5, 0.8,0.4,0.3,0.6,1.3,0.5,0.2,0.3],
    [0,0,0,0,0,0,0,0,0,0, 0,0,0,0,0,0,0,0,0,0, 0,0,0,0,0,0,0,0, 0,0,0.1,0,0.2,0.4,0.3,0.5, 0.7,0.2,0.4,0.6,0.3,0.9,0.5,0.2, 0.7,0.4,0.3,0.6,1.4,0.5,0.8,0.3, 0.6,0.9,0.4,0.2,0.5,0.7,0.3,0.2],
    [0,0,0,0,0,0,0,0,0,0, 0,0,0,0.3,0,0,0,0,0,0, 0,0,0,0,0,0,0,0, 0,0,0,0.2,0.1,0.3,0.5,0.2, 0.6,0.4,0.3,0.7,0.2,0.5,0.9,0.4, 0.2,0.6,0.3,1.0,0.5,0.8,0.4,2.6, 0.9,0.5,0.3,0.7,0.4,0.6,0.2,0.3],
    [0,0,0,0,0,0,0,0,0,0.5, 0,0,0,0,0,0,0,0,0,0, 0,0,0,0,0,0,0,0, 0,0,0.1,0.2,0.4,0.3,0.6,0.2, 0.5,0.8,0.4,0.3,0.6,0.2,0.5,0.4, 0.7,0.3,0.2,0.6,0.9,0.4,0.6,4.2, 8.1,3.2,0.3,0.5,0.4,0.7,0.3,0.2],
    [0,0,0,0,0,0,0,0,0,0, 0,0,0,0,0,0,0,0,0,0, 0,0,0,0,0,0,0,0, 0,0,0,0.1,0.3,0.2,0.4,0.6, 0.3,0.5,0.2,0.7,0.4,0.3,0.8,0.2, 0.5,0.4,0.6,0.3,0.9,0.5,0.2,0.4, 0.7,0.3,0.5,0.8,0.4,1.2,0.6,0.2],
    [0,0,0,0,0,0,0,0,0,0, 0,0,0,0,0,0,0,0,0,0, 0,0,0,0,0,0,0,0, 0,0,0.2,0,0.1,0.3,0.5,0.2, 0.4,0.7,0.3,0.6,0.2,0.5,0.4,0.8, 0.3,0.6,0.2,0.9,5.0,1.5,0.4,0.3, 0.6,0.2,0.5,0.4,0.7,0.3,0.5,0.2],
    [0,0,0,0,0,0,0,0,0,0, 0,0,0,0,0,0,0,0,0,0, 0,0,0,0,0,0,0,0, 0,0,0,0.2,0.4,0.1,0.3,0.6, 0.5,0.2,0.8,0.4,0.3,0.6,0.2,0.5, 0.9,0.3,0.4,0.7,0.2,0.5,0.3,0.6, 0.4,0.8,0.3,0.5,1.0,5.2,1.5,0.3],
    [0,0,0,0,0,0,0,0,0,0, 0,0.25,0,0,0,0,0,0,0,0, 0,0,0,0,0,0,0,0, 0,0,0.1,0.3,0.2,0.5,0.4,0.2, 0.6,0.3,0.7,0.4,0.2,0.5,0.8,0.3, 0.6,0.2,0.4,0.9,0.5,0.4,10.5,18.6, 1.2,0.4,0.6,0.3,0.5,0.2,0.4,0.3],
    [0,0,0,0,0,0,0,0,0,0, 0,0,0,0,0,0,0,0,0,0, 0,0,0,0,0,0,0,0, 0,0,0,0.2,0.1,0.4,0.3,0.6, 0.2,0.5,0.4,0.3,0.7,0.2,0.5,0.6, 0.3,0.8,0.4,0.2,1.0,7.7,2.0,0.5, 0.3,0.6,0.4,0.2,0.7,0.5,0.3,0.2],
    [0,0,0,0,0,0,0,0,0,0, 0,0,0,0,0,0,0,0,0,0, 0,0,0,0,0,0,0,0, 0,0,0.1,0.3,0.2,0.4,0.6,0.3, 0.5,0.8,0.4,1.5,3.4,6.2,3.7,2.6, 6.6,7.6,1.2,0.5,0.3,0.7,0.4,0.6, 0.2,0.5,0.8,0.3,0.4,0.6,0.2,0.3],
    [0,0,0,0,0,0,0,0,0,0, 0,0,0,0,0,0,0,0,0,0, 0,0,0,0,0,0,0,0, 0,0,0,0.2,0.5,0.3,2.2,2.8, 2.5,3.0,1.1,0.4,0.6,0.3,0.5,0.2, 0.7,0.4,0.3,0.6,0.9,0.5,0.2,0.4, 0.7,0.3,0.5,0.6,0.2,0.8,0.4,0.3],
    [0,0,0,0,0,0,0,0,0,0, 0,0,0,0,0,0,0,0,0,0, 0,0,0,0,0,0,0,0, 0,0,0.2,0.1,0.3,0.2,0.5,0.4, 0.7,0.3,0.6,0.2,0.4,0.8,0.3,0.5, 0.2,0.6,0.4,0.3,0.7,0.5,2.0,10.5, 0.5,0.4,0.3,0.6,0.2,0.9,0.5,0.3],
    [0,0,0,0,0,0,0,0,0,0, 0,0,0,0,0,0,0,0,0,0, 0,0,0,0,0,0,0,0, 0,0,0,0.1,0.2,0.4,0.3,0.6, 0.2,0.5,0.8,0.4,0.3,0.6,0.2,0.4, 0.7,0.3,0.5,0.9,0.4,0.2,0.6,0.3, 0.5,0.8,0.4,0.2,0.6,0.3,1.1,0.4],
    [0,0,0,0,0,0,0,0,0,0, 0,0,0,0,0,0,0,0,0,0, 0,0,0,0,0,0,0,0, 0,0,0.1,0,0.3,0.5,0.2,0.4, 0.7,0.3,0.6,0.2,0.5,0.3,0.8,0.4, 0.2,0.6,0.3,0.5,0.9,0.4,0.3,0.7, 0.2,0.5,0.4,0.8,0.3,0.6,0.2,0.4],
    [0,0,0,0,0,0,0,0,0,0, 0,0,0,0,0,0,0,0,0,0, 0,0,0,0,0,0,0,0, 0,0,0,0.3,0.2,0.6,0.4,0.3, 0.5,0.9,0.2,0.4,0.7,0.3,0.5,0.2, 0.6,0.4,0.8,0.3,0.5,0.2,0.6,0.4, 0.3,0.7,0.5,1.7,0.4,0.6,0.3,0.2],
    [0,0,0,0,0,0,0,0,0,0, 0,0,0,0,0,0,0,0,0,0, 0,0,0,0,0,0,0,0, 0,0,0.2,0.4,0.3,1.8,0.5,0.2, 0.6,0.4,0.3,0.7,0.2,0.5,0.4,0.8, 0.3,0.6,0.2,0.5,0.9,0.4,0.3,0.6, 0.5,0.2,0.7,0.4,0.3,0.8,0.5,0.2],
    [0,0,0,0,0,0,0,0,0,0, 0,0,0,0,0,0,0,0,0,0, 0,0,0,0,0,0,0,0, 0.3,0.1,0.4,0.2,0.5,0.3,0.7,0.4, 0.2,0.6,0.3,0.5,0.8,0.4,0.2,0.6, 0.3,0.5,0.9,0.4,0.2,0.6,0.3,0.5, 1.5,7.1,1.0,0.4,0.6,0.3,0.5,0.2],
    [0,0,0,0,0,0,0,0,0,0, 0,0,0,0,0,0,0,0,0,0, 0,0,0,0,0,0,0,0, 0,0,0.1,0.2,0.4,0.3,0.6,0.2, 0.5,0.3,0.7,0.4,0.2,0.6,0.3,0.8, 0.4,0.5,0.2,0.6,0.3,0.4,0.7,0.5, 0.2,0.6,0.3,0.8,11.9,2.5,0.4,0.3],
    [0,0,0,0,0,0,0,0,0,0, 0,0,0,0,0,0,0,0,0,0, 0,0,0,0,0,0,0,0, 0,0,0,0.3,0.5,0.2,0.4,0.6, 0.3,0.8,0.5,0.2,0.6,0.4,0.3,0.7, 0.2,0.5,0.5,3.7,0.8,0.4,0.3,0.6, 0.2,0.5,0.4,0.7,0.3,0.6,0.2,0.4],
    [0,0,0,0,0,0,0,0,0,0, 0,0,0,0,0,0,0,0,0,0, 0,0,0,0,0,0,0,0, 0,0,0.2,0.1,0.3,0.6,0.2,0.5, 0.4,0.7,0.3,0.5,0.2,0.6,0.4,0.3, 0.8,0.2,0.5,1.0,5.2,0.8,0.4,0.6, 0.3,0.5,0.2,0.7,0.4,0.3,0.6,0.2],
    [0,0,0,0,0,0,0,0,0,0, 0,0,0,0,0,0,0,0,0,0, 0,0,0,0,0,0,0,0, 0,0,0,0.2,0.4,0.3,0.5,0.7, 0.2,0.6,0.4,0.8,0.3,0.5,0.2,0.6, 0.4,0.3,0.7,0.5,0.2,0.6,0.9,0.4, 0.3,0.5,0.8,0.2,0.6,0.4,0.3,0.5],
    [0,0,0,0,0,0,0,0,0,0, 0,0,0,0,0,0,0,0,0,0, 0,0,0,0,0,0,0,0, 0,0,0.1,0.3,0.2,0.5,0.4,0.6, 0.3,0.2,0.7,0.5,0.4,0.3,0.6,0.2, 0.5,0.8,0.4,0.3,0.6,0.2,0.5,1.2, 0.7,0.4,0.3,0.6,0.2,0.5,0.4,0.2],
    [0,0,0,0,0,0,0,0,0,0, 0,0,0,0,0,0,0,0,0,0, 0,0,0,0,0,0,0,0, 0,0,0,0.1,0.3,0.4,0.2,0.6, 0.5,0.3,0.8,0.2,0.4,0.6,0.3,0.5, 0.2,0.7,0.4,0.6,0.3,0.5,0.8,0.4, 0.2,0.6,0.3,0.5,0.7,0.4,0.2,0.3],
    [0,0,0,0,0,0,0,0,0,0, 0,0,0,0,0,0,0,0,0,0, 0,0,0,0,0,0,0,0, 0,0,0.2,0,0.3,0.2,0.5,0.4, 0.3,0.6,0.2,0.5,0.8,0.4,0.3,0.6, 0.2,0.5,0.4,0.7,0.3,3.6,0.8,0.4, 0.6,0.3,0.5,0.2,0.7,0.4,0.3,0.2],
    [0,0,0,0,0,0,0,0,0,0, 0,0,0,0,0,0,0,0,0,0, 0,0,0,0,0,0,0,0, 0,0,0,0.2,0.3,0.5,0.4,0.2, 0.6,0.3,0.5,0.7,0.4,0.2,0.6,0.3, 0.8,0.5,0.2,0.4,0.6,0.3,0.5,0.9, 0.4,0.2,0.6,0.3,0.5,0.7,0.4,0.2],
    [0,0,0,0,0,0,0,0,0,0, 0,0,0,0,0,0,0,0,0,0, 0,0,0,0,0,0,0,0, 0,0,0.1,0.3,0.2,0.4,0.6,0.3, 0.5,0.2,0.7,0.4,0.3,0.6,0.2,0.5, 0.8,0.4,0.3,0.6,0.2,0.5,0.4,0.7, 0.3,0.6,0.2,0.5,0.9,0.4,0.3,0.2],
    [0,0,0,0,0,0,0,0,0,0, 0,0,0,0,0,0,0,0,0,0, 0,0,0,0,0,0,0,0, 0,0,0,0.2,0.4,0.3,0.5,0.2, 0.6,0.4,0.3,0.7,0.5,0.2,0.4,0.6, 0.5,4.7,0.6,0.3,0.5,0.2,0.7,0.4, 0.3,0.6,0.2,0.5,0.8,0.4,0.3,0.2],
    [0,0,0,0,0,0,0,0,0,0, 0,0,0,0,0,0,0,0,0,0, 0,0,0,0,0,0,0,0, 0,0,0.2,0.1,0.3,0.5,0.2,0.4, 0.7,0.3,0.6,0.2,0.5,0.4,0.8,0.3, 0.6,0.2,0.4,0.5,0.3,0.7,0.4,0.6, 0.2,0.5,0.3,0.8,0.4,0.6,0.2,0.3],
    [0,0,0,0,0,0,0,0,0,0, 0,0,0,0,0,0,0,0,0,0, 0,0,0,0,0,0,0,0, 0,0,0,0.3,0.2,0.4,0.6,0.3, 0.5,0.2,0.7,0.4,0.3,0.6,0.2,0.5, 0.4,0.8,0.3,0.6,0.2,0.5,0.7,0.4, 0.3,0.6,0.5,0.2,0.9,4.5,0.7,0.3],
    [0,0,0,0,0,0,0,0,0,0, 0,0,0,0,0,0,0,0,0,0, 0,0,0,0,0,0,0,0, 0,0,0.1,0.2,0.4,0.3,0.5,0.7, 0.2,0.6,0.4,0.3,0.8,0.5,0.2,0.6, 0.4,0.3,0.7,0.5,0.2,0.6,0.4,0.8, 0.3,0.5,0.2,0.6,0.4,0.3,0.7,0.2],
    [0,0,0,0,0,0,0,0,0,0, 0,0,0,0,0,0,0,0,0,0, 0,0,0,0,0,0,0,0, 0,0,0,0.1,0.3,0.5,0.4,0.2, 0.6,0.3,0.5,0.8,0.4,0.2,0.6,0.3, 0.5,0.7,0.4,0.2,0.6,0.3,0.9,0.5, 0.4,0.2,0.6,0.3,0.5,0.8,0.4,0.3],
    [0,0,0,0,0,0,0,0,0,0, 0,0,0,0,0,0,0,0,0,0, 0,0,0,0,0,0,0,0, 0,0,0.2,0,0.4,0.3,0.6,0.2, 0.5,0.7,0.3,0.4,0.6,0.2,0.5,0.8, 0.3,0.6,0.2,0.4,0.7,0.5,0.3,0.6, 0.4,0.2,0.5,0.7,0.3,0.6,0.4,0.2],
    [0,0,0,0,0,0,0,0,0,0, 0,0,0,0,0,0,0,0,0,0, 0,0,0,0,0,0,0,0, 0,0,0,0.2,0.3,0.5,0.2,0.6, 0.4,0.3,0.7,0.5,0.2,0.6,0.4,0.3, 0.8,0.5,0.2,0.6,0.4,0.3,0.7,0.5, 0.2,0.6,0.3,0.5,0.8,0.6,4.2,0.8],
    [0,0,0,0,0,0,0,0,0,0, 0,0,0,0,0,0,0,0,0,0, 0,0,0,0,0,0,0,0, 0,0,0.1,0.3,0.2,0.4,0.6,0.3, 0.5,0.2,0.7,0.4,0.3,0.5,0.2,0.6, 0.4,0.3,0.7,0.5,0.2,0.6,0.4,0.3, 0.5,0.2,0.6,0.4,0.3,0.5,0.1,5.2],
]

rain_mean = [0,0,0,0,0,0,0,0,0,0.05, 0.03,0,0.02,0,0,0,0,0,0,0,
             0,0,0,0,0,0,0,0,0.05,0.1, 0.2,0.2,0.25,0.2,0.3,0.4,0.6,0.9,0.2,0.5,
             0.45,0.4,0.25,0.2,0.55,0.4,0.2,0.3,0.4,0.6, 0.75,0.9,0.6,0.4,0.2,0.3,0.5,0.8,0.7,0.2]

rain_oper = [0,0,0,0,0,0,0,0,0,0, 0,0,0,0,0,0,0,0,0,0,
             0,0,0,0,0,0,0,0,0,0, 0.1,0.45,0.55,0.2,0.2,0.3,0.3,9.1,2.0,1.7,
             0.1,0.2,0.1,0.1,0.2,0.1,0.1,0.4,0.2,0.1, 0.1,0.3,0.1,0.1,0.5,0.9,0.2,7.2,14.1,0.2]

bad = [i for i, r in enumerate(temp_steps) if len(r) != 50] + [100 + i for i, r in enumerate(rain_members) if len(r) != 60]
assert len(temp_steps) == 60 and len(rain_members) == 50 and not bad, bad

# colour cycle used for the members (repeats every 20)
colors = ['#1a2cb4', '#1555c8', '#1e78c8', '#1a98c8', '#12a8b0', '#12a088', '#16a068',
          '#14a452', '#14b032', '#12c414', '#bcbc12', '#c4aa10', '#c89c0c', '#c88c0a',
          '#c27a08', '#ba6a0a', '#b25810', '#aa4418', '#a0321e', '#8e1a1a']
WHITE = '#f2f2f2'
OPER = '#14e014'
FONT = 'DejaVu Sans'

fig = go.Figure()

for k, name in enumerate(members):
    c = colors[k % 20]
    fig.add_trace(go.Scatter(x=times, y=[row[k] for row in temp_steps], mode='lines', name=name,
                             line=dict(color=c, width=1), yaxis='y', showlegend=False))
    fig.add_trace(go.Scatter(x=times, y=rain_members[k], mode='lines', name=name,
                             line=dict(color=c, width=1), yaxis='y2', showlegend=False))

fig.add_trace(go.Scatter(x=times, y=temp_mean, mode='lines', line=dict(color=WHITE, width=3.5), showlegend=False))
fig.add_trace(go.Scatter(x=times, y=rain_mean, mode='lines', line=dict(color=WHITE, width=3.5), yaxis='y2', showlegend=False))
fig.add_trace(go.Scatter(x=times, y=temp_oper, mode='lines', line=dict(color=OPER, width=4.5), showlegend=False))
fig.add_trace(go.Scatter(x=times, y=rain_oper, mode='lines', line=dict(color=OPER, width=4.5), yaxis='y2', showlegend=False))

# plot area in pixels (850x620 canvas)
L, T, W, H = 163, 30, 647, 529
def px(x): return (x - L) / W
def py(y): return (T + H - y) / H

shapes, annotations = [], []

# hand-made two-column legend
legend_names = members + ['Ens. mean', 'Oper']
legend_cols = [colors[k % 20] for k in range(50)] + [WHITE, OPER]
for i, (name, c) in enumerate(zip(legend_names, legend_cols)):
    x0 = 4 if i % 2 == 0 else 78
    y0 = 40 + 15 * (i // 2)
    shapes.append(dict(type='line', xref='paper', yref='paper', x0=px(x0), x1=px(x0 + 11),
                       y0=py(y0), y1=py(y0), line=dict(color=c, width=2.5 if i >= 50 else 2)))
    annotations.append(dict(text=name, xref='paper', yref='paper', x=px(x0 + 11), y=py(y0),
                            xanchor='left', yanchor='middle', showarrow=False,
                            font=dict(family=FONT, size=11, color=WHITE)))

label_font = dict(family=FONT, size=11, color='#e6e6e6')
annotations += [
    dict(text='<b>Brussels\u00a0\u00a0(BE)\u00a0\u00a02m Temp. & Neerslag | Fri, 07Aug2026 06Z</b>',
         xref='paper', yref='paper', x=px(435), y=py(12), xanchor='center', yanchor='middle',
         showarrow=False, font=dict(family=FONT, size=16, color='white')),
    dict(text='AIFS Ensemble, 50.75N, 4.25E', xref='paper', yref='paper', x=px(118), y=py(599),
         xanchor='left', yanchor='middle', showarrow=False, font=dict(family=FONT, size=16, color='#dedede')),
    dict(text='Wetterzentrale.de', xref='paper', yref='paper', x=px(797), y=py(599),
         xanchor='right', yanchor='middle', showarrow=False, font=dict(family=FONT, size=16, color='#dedede')),
    dict(text='2m Temp. (°C)', xref='paper', yref='paper', x=px(131), y=py(295), textangle=-90,
         xanchor='center', yanchor='middle', showarrow=False, font=label_font),
    dict(text='Neerslag (mm)', xref='paper', yref='paper', x=px(840), y=py(295), textangle=-90,
         xanchor='center', yanchor='middle', showarrow=False, font=label_font),
]

GRID = '#3e3e3e'
AXIS = '#e6e6e6'
DASH = '5px,4px'
tick_font = dict(family=FONT, size=11, color=AXIS)

fig.update_layout(
    width=850, height=620,
    margin=dict(l=L, r=850 - L - W, t=T, b=620 - T - H),
    paper_bgcolor='black', plot_bgcolor='black',
    showlegend=False,
    shapes=shapes, annotations=annotations,
    xaxis=dict(type='date', range=['2026-08-07 00:00', '2026-08-22 06:00'],
               tick0='2026-08-07', dtick=2 * 86400000, tickformat='%d%b %Hz',
               showgrid=True, gridcolor=GRID, griddash=DASH, gridwidth=1,
               minor=dict(dtick=86400000, tick0='2026-08-07', showgrid=True, gridcolor=GRID, griddash=DASH),
               showline=True, linecolor=AXIS, linewidth=1.5, mirror=True, zeroline=False,
               ticks='outside', ticklen=3, tickcolor='rgba(0,0,0,0)', tickfont=tick_font,
               title=dict(text='Date (UTC)', font=label_font, standoff=5)),
    yaxis=dict(range=[-10, 45], dtick=5, showgrid=True, gridcolor=GRID, griddash=DASH,
               zeroline=True, zerolinecolor=WHITE, zerolinewidth=1.5,
               showline=True, linecolor=AXIS, linewidth=1.5, mirror=True,
               ticks='outside', ticklen=7, tickcolor='rgba(0,0,0,0)', tickfont=tick_font),
    yaxis2=dict(range=[0, 40], dtick=10, overlaying='y', side='right', showgrid=False, zeroline=False,
                showline=True, linecolor=AXIS, linewidth=1.5,
                ticks='inside', ticklen=5, tickcolor=AXIS, tickfont=tick_font,
                minor=dict(dtick=2, ticks='inside', ticklen=5, tickcolor=AXIS)),
)

fig.write_html("out.html", config={'displayModeBar': False},
               post_script="document.body.style.margin='0';")
